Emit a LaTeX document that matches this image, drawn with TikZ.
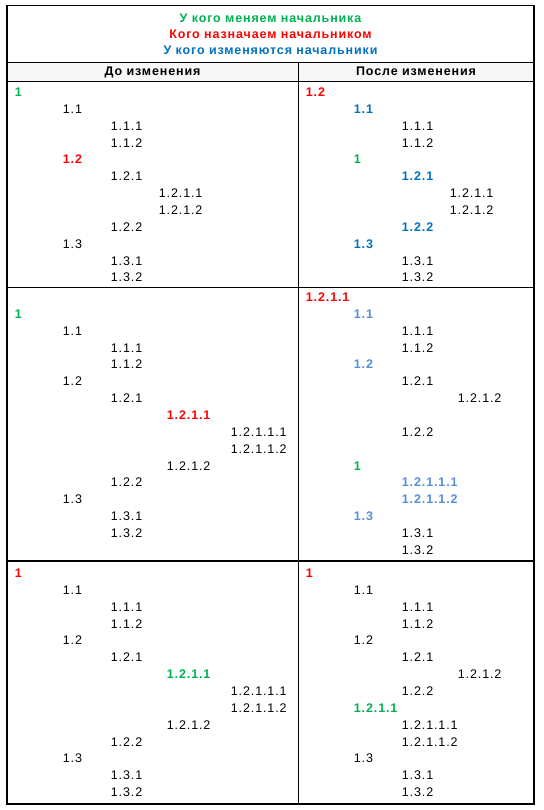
\documentclass[tikz,border=0pt]{standalone}
\usepackage{fontspec}
\setmainfont{Liberation Sans}[LetterSpace=7]
\definecolor{xgreen}{HTML}{00B050}
\definecolor{xred}{HTML}{FF0000}
\definecolor{xblue}{HTML}{0070C0}
\definecolor{xlblue}{HTML}{558ED5}
\newcommand{\itm}[6]{\node[#5] (#1) at ({(#2-1.3)*1pt},{-(#3+#4*16.87+4.4)*1pt}) {#6};}
\tikzset{
  t/.style={font=\fontsize{12.5}{15}\selectfont, anchor=base west, inner sep=0pt, text=black},
  tb/.style={t, font=\fontsize{12.5}{15}\selectfont\bfseries},
  gr/.style={tb, text=xgreen},
  rd/.style={tb, text=xred},
  bl/.style={tb, text=xblue},
  lb/.style={tb, text=xlblue},
  hd/.style={font=\fontsize{12.5}{15}\selectfont\bfseries, anchor=base, inner sep=0pt},
  grid/.style={line width=1.2pt, black},
}
\begin{document}
\begin{tikzpicture}[x=1pt,y=1pt]
\useasboundingbox (0,0) rectangle (543,-810);
% column header background
\fill[black!3] (7,-62.3) rectangle (534,-81.5);
% table lines
\draw[grid] (7,-5.5) rectangle (534,-804);
\draw[grid] (7,-62.3) -- (534,-62.3);
\draw[grid] (7,-81.5) -- (534,-81.5);
\draw[grid] (7,-287.5) -- (534,-287.5);
\draw[grid] (7,-561) -- (534,-561);
\draw[grid] (298.3,-62.3) -- (298.3,-804);
% title
\node[hd, text=xgreen] (t1) at (270.5,-22.7) {У кого меняем начальника};
\node[hd, text=xred] (t2) at (270.5,-38.7) {Кого назначаем начальником};
\node[hd, text=xblue] (t3) at (270.5,-54.3) {У кого изменяются начальники};
\node[hd] (h1) at (152.5,-75.8) {До изменения};
\node[hd] (h2) at (416,-75.8) {После изменения};
% row 1 left
\itm{a0}{16}{92}{0}{gr}{1}
\itm{a1}{64}{92}{1}{t}{1.1}
\itm{a2}{112}{92}{2}{t}{1.1.1}
\itm{a3}{112}{92}{3}{t}{1.1.2}
\itm{a4}{64}{92}{4}{rd}{1.2}
\itm{a5}{112}{92}{5}{t}{1.2.1}
\itm{a6}{160}{92}{6}{t}{1.2.1.1}
\itm{a7}{160}{92}{7}{t}{1.2.1.2}
\itm{a8}{112}{92}{8}{t}{1.2.2}
\itm{a9}{64}{92}{9}{t}{1.3}
\itm{a10}{112}{92}{10}{t}{1.3.1}
\itm{a11}{112}{92}{11}{t}{1.3.2}
% row 1 right
\itm{b0}{307}{92}{0}{rd}{1.2}
\itm{b1}{355}{92}{1}{bl}{1.1}
\itm{b2}{403}{92}{2}{t}{1.1.1}
\itm{b3}{403}{92}{3}{t}{1.1.2}
\itm{b4}{355}{92}{4}{gr}{1}
\itm{b5}{403}{92}{5}{bl}{1.2.1}
\itm{b6}{451}{92}{6}{t}{1.2.1.1}
\itm{b7}{451}{92}{7}{t}{1.2.1.2}
\itm{b8}{403}{92}{8}{bl}{1.2.2}
\itm{b9}{355}{92}{9}{bl}{1.3}
\itm{b10}{403}{92}{10}{t}{1.3.1}
\itm{b11}{403}{92}{11}{t}{1.3.2}
% row 2 left
\itm{c1}{16}{297}{1}{gr}{1}
\itm{c2}{64}{297}{2}{t}{1.1}
\itm{c3}{112}{297}{3}{t}{1.1.1}
\itm{c4}{112}{297}{4}{t}{1.1.2}
\itm{c5}{64}{297}{5}{t}{1.2}
\itm{c6}{112}{297}{6}{t}{1.2.1}
\itm{c7}{168}{297}{7}{rd}{1.2.1.1}
\itm{c8}{232}{297}{8}{t}{1.2.1.1.1}
\itm{c9}{232}{297}{9}{t}{1.2.1.1.2}
\itm{c10}{168}{297}{10}{t}{1.2.1.2}
\itm{c11}{112}{297}{11}{t}{1.2.2}
\itm{c12}{64}{297}{12}{t}{1.3}
\itm{c13}{112}{297}{13}{t}{1.3.1}
\itm{c14}{112}{297}{14}{t}{1.3.2}
% row 2 right
\itm{d0}{307}{297}{0}{rd}{1.2.1.1}
\itm{d1}{355}{297}{1}{lb}{1.1}
\itm{d2}{403}{297}{2}{t}{1.1.1}
\itm{d3}{403}{297}{3}{t}{1.1.2}
\itm{d4}{355}{297}{4}{lb}{1.2}
\itm{d5}{403}{297}{5}{t}{1.2.1}
\itm{d6}{459}{297}{6}{t}{1.2.1.2}
\itm{d8}{403}{297}{8}{t}{1.2.2}
\itm{d10}{355}{297}{10}{gr}{1}
\itm{d11}{403}{297}{11}{lb}{1.2.1.1.1}
\itm{d12}{403}{297}{12}{lb}{1.2.1.1.2}
\itm{d13}{355}{297}{13}{lb}{1.3}
\itm{d14}{403}{297}{14}{t}{1.3.1}
\itm{d15}{403}{297}{15}{t}{1.3.2}
% row 3 left
\itm{e0}{16}{573}{0}{rd}{1}
\itm{e1}{64}{573}{1}{t}{1.1}
\itm{e2}{112}{573}{2}{t}{1.1.1}
\itm{e3}{112}{573}{3}{t}{1.1.2}
\itm{e4}{64}{573}{4}{t}{1.2}
\itm{e5}{112}{573}{5}{t}{1.2.1}
\itm{e6}{168}{573}{6}{gr}{1.2.1.1}
\itm{e7}{232}{573}{7}{t}{1.2.1.1.1}
\itm{e8}{232}{573}{8}{t}{1.2.1.1.2}
\itm{e9}{168}{573}{9}{t}{1.2.1.2}
\itm{e10}{112}{573}{10}{t}{1.2.2}
\itm{e11}{64}{573}{11}{t}{1.3}
\itm{e12}{112}{573}{12}{t}{1.3.1}
\itm{e13}{112}{573}{13}{t}{1.3.2}
% row 3 right
\itm{f0}{307}{573}{0}{rd}{1}
\itm{f1}{355}{573}{1}{t}{1.1}
\itm{f2}{403}{573}{2}{t}{1.1.1}
\itm{f3}{403}{573}{3}{t}{1.1.2}
\itm{f4}{355}{573}{4}{t}{1.2}
\itm{f5}{403}{573}{5}{t}{1.2.1}
\itm{f6}{459}{573}{6}{t}{1.2.1.2}
\itm{f7}{403}{573}{7}{t}{1.2.2}
\itm{f8}{355}{573}{8}{gr}{1.2.1.1}
\itm{f9}{403}{573}{9}{t}{1.2.1.1.1}
\itm{f10}{403}{573}{10}{t}{1.2.1.1.2}
\itm{f11}{355}{573}{11}{t}{1.3}
\itm{f12}{403}{573}{12}{t}{1.3.1}
\itm{f13}{403}{573}{13}{t}{1.3.2}
\end{tikzpicture}
\end{document}
